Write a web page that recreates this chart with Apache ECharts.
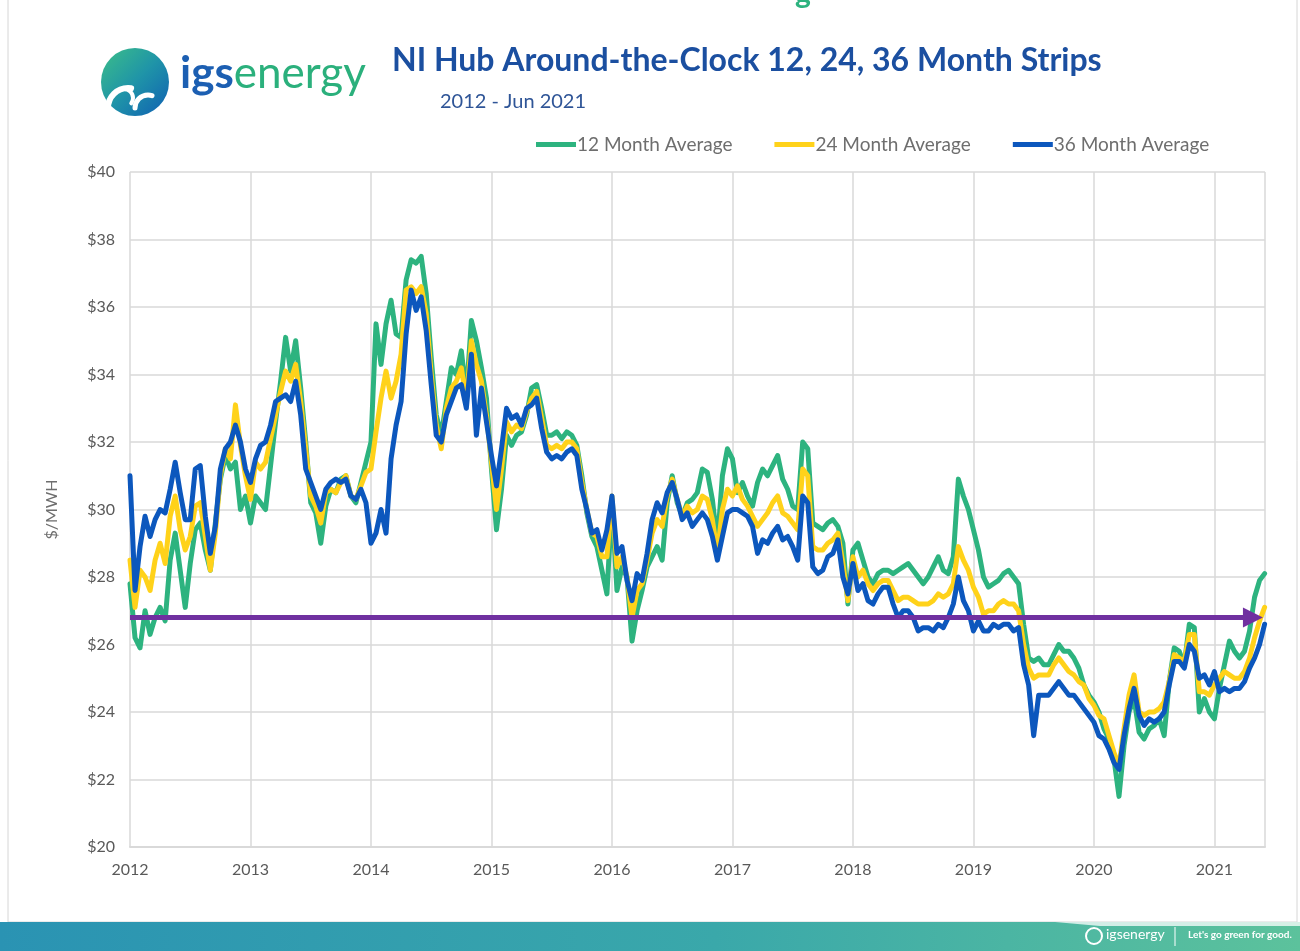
<!DOCTYPE html>
<html><head><meta charset="utf-8">
<script src="https://cdn.jsdelivr.net/npm/echarts@6/dist/echarts.min.js"></script>
<style>html,body{margin:0;padding:0;background:#fff}#chart{width:1300px;height:951px}</style>
</head><body><div id="chart"></div>
<script>
// ---- data (semi-monthly readings, $/MWH) ----
const seriesNames = ['12 Month Average', '24 Month Average', '36 Month Average'];
const startYear = 2012;
const stepsPerYear = 24;          // one reading every half month
const yearTicks = [2012, 2013, 2014, 2015, 2016, 2017, 2018, 2019, 2020, 2021];
const yTicks = [20, 22, 24, 26, 28, 30, 32, 34, 36, 38, 40];

const avg12 = [
  27.8,26.2,25.9,27.0,26.3,26.8,27.1,26.7,28.5,29.3,28.2,27.1,28.4,29.4,29.6,28.8,28.2,29.6,30.9,31.6,31.2,31.4,30.0,30.4,
  29.6,30.4,30.2,30.0,31.3,32.6,33.8,35.1,34.1,35.0,33.6,32.0,30.2,29.9,29.0,30.1,30.6,30.5,30.9,31.0,30.4,30.2,30.8,31.4,
  32.0,35.5,34.3,35.5,36.2,35.2,35.1,36.8,37.4,37.3,37.5,36.4,34.5,32.8,32.2,33.2,34.2,34.0,34.7,33.4,35.6,35.0,34.2,33.3,
  31.2,29.4,30.6,32.2,31.9,32.2,32.3,32.8,33.6,33.7,33.0,32.2,32.2,32.3,32.1,32.3,32.2,31.9,31.0,29.9,29.2,28.9,28.2,27.5,
  30.2,27.6,28.3,28.0,26.1,27.0,27.6,28.3,28.6,28.9,28.5,30.2,31.0,30.2,29.8,30.2,30.3,30.5,31.2,31.1,30.3,29.0,31.0,31.8,
  31.5,30.5,30.8,30.4,30.1,30.8,31.2,31.0,31.3,31.6,30.9,30.6,30.1,30.0,32.0,31.8,29.6,29.5,29.4,29.6,29.7,29.5,29.0,27.2,
  28.8,29.0,28.5,28.0,27.8,28.1,28.2,28.2,28.1,28.2,28.3,28.4,28.2,28.0,27.8,28.0,28.3,28.6,28.2,28.1,28.6,30.9,30.4,30.0,
  29.4,28.8,28.0,27.7,27.8,27.9,28.1,28.2,28.0,27.8,26.6,25.6,25.5,25.6,25.4,25.4,25.7,26.0,25.8,25.8,25.6,25.3,24.8,24.5,
  24.3,24.0,23.5,23.2,22.6,21.5,23.0,24.0,24.4,23.4,23.2,23.5,23.6,23.8,23.3,24.9,25.9,25.8,25.4,26.6,26.5,24.0,24.4,24.0,
  23.8,24.7,25.4,26.1,25.8,25.6,25.8,26.4,27.4,27.9,28.1
];
const avg24 = [
  28.5,27.1,28.2,28.0,27.6,28.5,29.0,28.4,29.8,30.4,29.4,28.8,29.2,30.1,30.2,29.2,28.2,29.3,31.0,31.8,31.5,33.1,31.9,31.0,
  30.3,31.4,31.2,31.4,32.1,32.8,33.5,34.1,33.8,34.3,33.2,31.8,30.4,30.1,29.6,30.5,30.6,30.5,30.8,31.0,30.4,30.3,30.7,31.1,
  31.2,32.3,33.3,34.1,33.3,33.8,34.6,36.5,36.6,36.4,36.6,35.8,34.0,32.5,31.8,33.0,33.6,33.8,34.2,33.2,35.0,34.3,33.8,32.8,
  31.4,30.0,31.2,32.6,32.3,32.5,32.4,32.9,33.3,33.5,32.7,31.9,31.8,31.9,31.8,32.0,32.0,31.8,30.8,30.0,29.3,29.2,28.6,28.6,
  30.4,28.3,28.6,28.0,26.8,27.6,27.8,28.5,29.3,29.7,29.5,30.4,30.9,30.3,29.8,30.1,29.9,30.0,30.4,30.3,29.7,28.7,30.0,30.6,
  30.4,30.7,30.3,30.1,29.8,29.5,29.7,29.9,30.2,30.4,29.9,29.8,29.6,29.4,31.2,31.0,28.9,28.8,28.8,29.0,29.1,29.3,28.4,27.3,
  28.6,28.0,28.2,27.8,27.6,27.8,27.9,27.9,27.6,27.3,27.4,27.4,27.3,27.2,27.2,27.2,27.3,27.5,27.4,27.5,27.8,28.9,28.5,28.2,
  27.7,27.4,26.9,27.0,27.0,27.2,27.3,27.2,27.2,27.0,26.0,25.3,25.0,25.1,25.1,25.1,25.4,25.6,25.4,25.2,25.1,24.9,24.8,24.4,
  24.2,23.9,23.8,23.3,22.8,22.4,23.5,24.5,25.1,24.0,23.9,24.0,24.0,24.1,24.3,24.9,25.7,25.6,25.5,26.3,26.3,24.6,24.6,24.5,
  24.8,25.0,25.2,25.1,25.0,25.0,25.2,25.6,26.2,26.7,27.1
];
const avg36 = [
  31.0,27.6,28.9,29.8,29.2,29.7,30.0,29.9,30.6,31.4,30.5,29.7,29.7,31.2,31.3,29.8,28.7,29.5,31.2,31.8,32.0,32.5,32.0,31.2,
  30.8,31.5,31.9,32.0,32.5,33.2,33.3,33.4,33.2,33.8,32.8,31.2,30.8,30.4,30.0,30.6,30.8,30.9,30.8,30.9,30.4,30.3,30.6,30.2,
  29.0,29.3,30.0,29.3,31.5,32.5,33.2,35.2,36.5,35.9,36.3,35.3,33.7,32.2,32.0,32.8,33.2,33.6,33.7,33.0,34.6,32.2,33.6,32.6,
  31.6,30.7,31.8,33.0,32.7,32.8,32.5,33.0,33.1,33.3,32.4,31.7,31.5,31.6,31.5,31.7,31.8,31.6,30.6,30.0,29.3,29.4,28.8,29.4,
  30.4,28.7,28.9,27.9,27.3,28.1,27.9,28.7,29.7,30.2,29.9,30.5,30.8,30.3,29.7,29.9,29.5,29.7,29.9,29.7,29.2,28.5,29.2,29.9,
  30.0,30.0,29.9,29.8,29.5,28.7,29.1,29.0,29.3,29.5,29.1,29.2,28.9,28.5,30.4,30.2,28.3,28.1,28.2,28.6,28.7,29.1,28.0,27.5,
  28.4,27.6,27.8,27.3,27.2,27.5,27.7,27.7,27.2,26.8,27.0,27.0,26.8,26.4,26.5,26.5,26.4,26.6,26.5,26.8,27.2,28.0,27.3,27.0,
  26.4,26.7,26.4,26.4,26.6,26.5,26.6,26.6,26.4,26.5,25.4,24.8,23.3,24.5,24.5,24.5,24.7,24.9,24.7,24.5,24.5,24.3,24.1,23.9,
  23.7,23.3,23.2,22.9,22.5,22.3,23.3,24.1,24.7,23.9,23.6,23.8,23.7,23.8,24.0,24.8,25.5,25.5,25.3,26.0,25.8,25.0,25.1,24.8,
  25.2,24.6,24.7,24.6,24.7,24.7,24.9,25.3,25.6,26.0,26.6
];
// purple reference arrow ($/MWH level and start/end dates)
const arrowLevel = 26.8;
const arrowStart = 2012;
const arrowEnd = 2021.32;
const xMax = 2021.42;   // right edge of plot (about Jun 2021)

// ---- chart ----
const toPairs = vals => vals.map((v, i) => [startYear + i / stepsPerYear, v]);
const colors = ['#2db37f', '#ffd21a', '#0c57bd'];
const FONT = 'Lato, "Open Sans", sans-serif';

const chart = echarts.init(document.getElementById('chart'), null, {renderer: 'canvas'});
const lineSeries = [avg12, avg24, avg36].map((vals, i) => ({
  name: seriesNames[i],
  type: 'line',
  data: toPairs(vals),
  showSymbol: false,
  symbol: 'none',
  smooth: false,
  z: 2 + i,
  lineStyle: {color: colors[i], width: 5, join: 'round', cap: 'round'},
  itemStyle: {color: colors[i]},
  emphasis: {disabled: true},
  animation: false
}));
lineSeries.push({
  name: 'arrow',
  type: 'line',
  data: [],
  z: 10,
  markLine: {
    silent: true,
    symbol: ['none', 'triangle'],
    symbolSize: [20, 20],
    label: {show: false},
    lineStyle: {color: '#7030a0', width: 5, type: 'solid'},
    data: [[{coord: [arrowStart, arrowLevel]}, {coord: [arrowEnd, arrowLevel]}]],
    animation: false
  }
});

chart.setOption({
  animation: false,
  backgroundColor: '#ffffff',
  textStyle: {fontFamily: FONT},
  title: [
    {text: 'NI Hub Around-the-Clock 12, 24, 36 Month Strips', left: 387, top: 40,
     textStyle: {fontFamily: FONT, fontWeight: 'bold', fontSize: 32, color: '#1b4fa0'}},
    {text: '2012 - Jun 2021', left: 435, top: 87,
     textStyle: {fontFamily: FONT, fontWeight: 'normal', fontSize: 20, color: '#2f5597'}}
  ],
  legend: {
    data: seriesNames,
    left: 531, top: 130,
    icon: 'rect', itemWidth: 40, itemHeight: 5, itemGap: 42,
    textStyle: {fontFamily: FONT, fontSize: 19, color: '#6e6e6e', padding: [0, 0, 0, -4]},
    selectedMode: false
  },
  grid: {left: 130, top: 172, width: 1135, height: 675, containLabel: false},
  xAxis: {
    type: 'value', min: startYear, max: xMax, interval: 1,
    axisLine: {show: true, lineStyle: {color: '#d9d9d9', width: 2}},
    axisTick: {show: false},
    splitLine: {show: true, lineStyle: {color: '#d9d9d9', width: 1.5}},
    axisLabel: {color: '#595959', fontSize: 16, margin: 15, fontFamily: FONT,
      formatter: v => (yearTicks.indexOf(v) >= 0 ? String(v) : '')}
  },
  yAxis: {
    type: 'value', min: yTicks[0], max: yTicks[yTicks.length - 1], interval: 2,
    name: '$/MWH', nameLocation: 'middle', nameGap: 70, nameRotate: 90,
    nameTextStyle: {color: '#6e6e6e', fontSize: 16, fontFamily: FONT},
    axisLine: {show: false},
    axisTick: {show: false},
    splitLine: {show: true, lineStyle: {color: '#d9d9d9', width: 1.5}},
    axisLabel: {color: '#595959', fontSize: 16, margin: 15, fontFamily: FONT, formatter: '${value}'}
  },
  graphic: [
    // slide frame
    {type: 'rect', shape: {x: 8, y: -2, width: 1289, height: 924}, style: {fill: 'none', stroke: '#d6d6d6', lineWidth: 1}, silent: true},
    // cropped heading glyph at top
    {type: 'text', left: 795, top: -22, style: {text: 'g', fill: '#2db37f', font: 'bold 30px ' + FONT}},
    // logo circle
    {type: 'circle', shape: {cx: 135, cy: 82, r: 34},
     style: {fill: new echarts.graphic.LinearGradient(0, 0, 1, 1, [
       {offset: 0, color: '#3cbf88'}, {offset: 0.5, color: '#1f94a8'}, {offset: 1, color: '#0f5fb3'}])}},
    {type: 'arc', shape: {cx: 128, cy: 108, r: 20, startAngle: Math.PI * 1.0, endAngle: Math.PI * 1.55},
     style: {stroke: '#ffffff', lineWidth: 6, fill: 'none', lineCap: 'round'}},
    {type: 'arc', shape: {cx: 148, cy: 108, r: 13, startAngle: Math.PI * 1.0, endAngle: Math.PI * 1.6},
     style: {stroke: '#ffffff', lineWidth: 5, fill: 'none', lineCap: 'round'}},
    {type: 'arc', shape: {cx: 124, cy: 98, r: 9, startAngle: Math.PI * 1.5, endAngle: Math.PI * 2.2},
     style: {stroke: '#ffffff', lineWidth: 4, fill: 'none', lineCap: 'round'}},
    // logo wordmark
    {type: 'text', left: 180, top: 52,
     style: {text: '{a|igs}{b|energy}', rich: {
       a: {fontFamily: FONT, fontWeight: 'bold', fontSize: 44, fill: '#1c5fb2', color: '#1c5fb2'},
       b: {fontFamily: FONT, fontWeight: 'normal', fontSize: 44, fill: '#2bb07c', color: '#2bb07c'}}}},
    // footer bar
    {type: 'rect', shape: {x: 0, y: 922, width: 1300, height: 29},
     style: {fill: new echarts.graphic.LinearGradient(0, 0, 1, 0, [
       {offset: 0, color: '#2a93b3'}, {offset: 0.55, color: '#3aa8aa'}, {offset: 1, color: '#5cc29c'}])}},
    {type: 'polygon', shape: {points: [[1055, 922], [1300, 922], [1300, 926], [1100, 926]]},
     style: {fill: 'rgba(255,255,255,0.75)'}},
    {type: 'circle', shape: {cx: 1094, cy: 936, r: 8}, style: {fill: 'none', stroke: '#ffffff', lineWidth: 2}},
    {type: 'text', left: 1106, top: 927, style: {text: 'igsenergy', fill: '#ffffff', font: '14px ' + FONT}},
    {type: 'line', shape: {x1: 1175, y1: 927, x2: 1175, y2: 946}, style: {stroke: '#ffffff', lineWidth: 1}},
    {type: 'text', left: 1188, top: 930, style: {text: "Let's go green for good.", fill: '#ffffff', font: 'bold 10px ' + FONT}}
  ],
  series: lineSeries
});
</script></body></html>
